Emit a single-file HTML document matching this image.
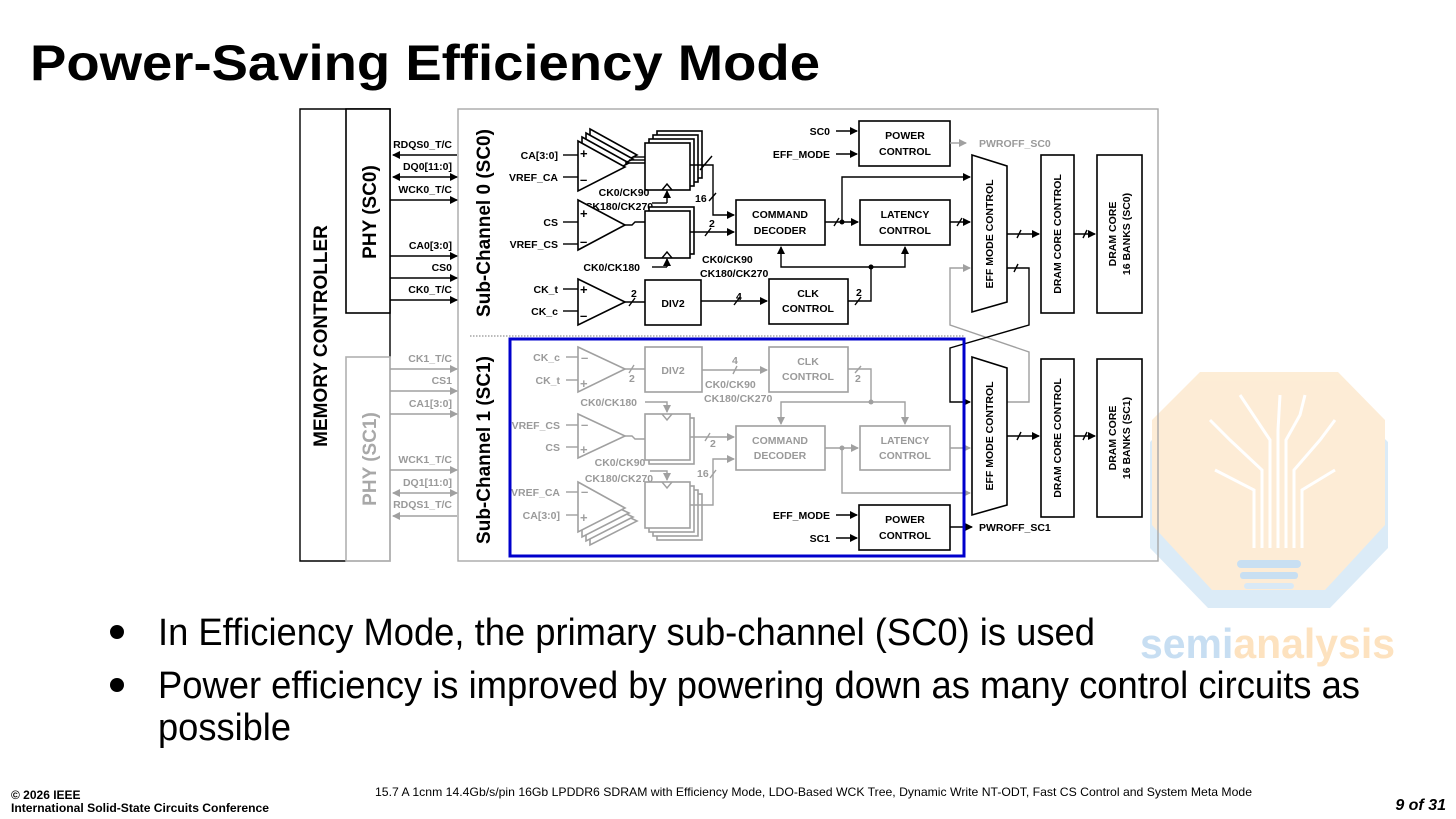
<!DOCTYPE html>
<html><head><meta charset="utf-8"><style>
html,body{margin:0;padding:0;background:#fff}
svg{display:block}
text{font-family:"Liberation Sans",Arial,sans-serif}
.l{font-size:10.5px;font-weight:bold;fill:#000}
.g{fill:#9a9a9a}
.bx{fill:#fff;stroke:#000;stroke-width:1.6}
.gb{fill:#fff;stroke:#a0a0a0;stroke-width:1.6}
.w{fill:none;stroke:#000;stroke-width:1.4}
.gw{fill:none;stroke:#a0a0a0;stroke-width:1.4}
</style></head><body>
<svg width="1456" height="819" viewBox="0 0 1456 819" xmlns="http://www.w3.org/2000/svg">
<defs>
<marker id="a" markerWidth="8" markerHeight="8" refX="7" refY="4" orient="auto" markerUnits="userSpaceOnUse"><path d="M0,0 L8,4 L0,8 z" fill="#000"/></marker>
<marker id="ag" markerWidth="8" markerHeight="8" refX="7" refY="4" orient="auto" markerUnits="userSpaceOnUse"><path d="M0,0 L8,4 L0,8 z" fill="#a0a0a0"/></marker>
<marker id="as" markerWidth="8" markerHeight="8" refX="1" refY="4" orient="auto" markerUnits="userSpaceOnUse"><path d="M8,0 L0,4 L8,8 z" fill="#000"/></marker>
<marker id="asg" markerWidth="8" markerHeight="8" refX="1" refY="4" orient="auto" markerUnits="userSpaceOnUse"><path d="M8,0 L0,4 L8,8 z" fill="#a0a0a0"/></marker>
</defs>

<!-- Logo watermark -->
<g opacity="0.9">
<path d="M1200,392 L1338,392 L1388,442 L1388,548 L1330,608 L1208,608 L1150,548 L1150,442 Z" fill="#d8e9f7"/>
<path d="M1200,372 L1338,372 L1385,420 L1385,525 L1325,590 L1212,590 L1152,525 L1152,420 Z" fill="#fdebd2"/>
<g stroke="#fff" stroke-width="3" fill="none">
<path d="M1262,548 V470 L1230,440 L1210,420"/><path d="M1270,548 V440 L1250,410 L1240,395"/>
<path d="M1278,548 V430 L1280,395"/><path d="M1286,548 V440 L1300,415 L1305,395"/>
<path d="M1294,548 V470 L1320,440 L1335,420"/><path d="M1254,548 V490 L1215,470"/><path d="M1302,548 V490 L1335,470"/>
</g>
<rect x="1237" y="560" width="64" height="8" rx="4" fill="#c3dcf1"/>
<rect x="1240" y="572" width="58" height="7" rx="3" fill="#c3dcf1"/>
<rect x="1244" y="583" width="50" height="6" rx="3" fill="#d5e7f6"/>
</g>
<text x="1140" y="658" font-size="42" font-weight="bold" fill="#c7def2" textLength="255" lengthAdjust="spacingAndGlyphs">semi<tspan fill="#fde2bf">analysis</tspan></text>

<!-- Title -->
<text x="30" y="80" font-size="50" font-weight="bold" textLength="790" lengthAdjust="spacingAndGlyphs">Power-Saving Efficiency Mode</text>

<!-- Main boxes -->
<rect x="458" y="109" width="700" height="452" fill="none" stroke="#a8a8a8" stroke-width="1.4"/>
<path d="M390,357 V109 H300 V561 H346" class="w" stroke-width="1.6"/>
<rect x="346" y="109" width="44" height="204" class="bx"/>
<rect x="346" y="357" width="44" height="204" fill="#fff" stroke="#b0b0b0" stroke-width="1.6"/>
<path d="M346,561 H390 V357" fill="none" stroke="#b0b0b0" stroke-width="1.6"/>
<text transform="translate(327,336) rotate(-90)" text-anchor="middle" font-size="19" font-weight="bold">MEMORY CONTROLLER</text>
<text transform="translate(376,212) rotate(-90)" text-anchor="middle" font-size="19" font-weight="bold">PHY (SC0)</text>
<text transform="translate(376,459) rotate(-90)" text-anchor="middle" font-size="19" font-weight="bold" fill="#a8a8a8">PHY (SC1)</text>
<text transform="translate(490,223) rotate(-90)" text-anchor="middle" font-size="19" font-weight="bold">Sub-Channel 0 (SC0)</text>
<text transform="translate(490,450) rotate(-90)" text-anchor="middle" font-size="19" font-weight="bold">Sub-Channel 1 (SC1)</text>
<line x1="470" y1="336" x2="965" y2="336" stroke="#777" stroke-width="1" stroke-dasharray="1.5,1.5"/>

<!-- PHY SC0 signals -->
<g class="l" text-anchor="end">
<text x="452" y="148">RDQS0_T/C</text><text x="452" y="170">DQ0[11:0]</text><text x="452" y="193">WCK0_T/C</text>
<text x="452" y="249">CA0[3:0]</text><text x="452" y="271">CS0</text><text x="452" y="293">CK0_T/C</text>
</g>
<line x1="457" y1="155" x2="393" y2="155" class="w" marker-end="url(#a)"/>
<line x1="393" y1="177" x2="457" y2="177" class="w" marker-end="url(#a)" marker-start="url(#as)"/>
<line x1="390" y1="200" x2="457" y2="200" class="w" marker-end="url(#a)"/>
<line x1="390" y1="256" x2="457" y2="256" class="w" marker-end="url(#a)"/>
<line x1="390" y1="278" x2="457" y2="278" class="w" marker-end="url(#a)"/>
<line x1="390" y1="300" x2="457" y2="300" class="w" marker-end="url(#a)"/>
<!-- PHY SC1 signals -->
<g class="l g" text-anchor="end">
<text x="452" y="362">CK1_T/C</text><text x="452" y="384">CS1</text><text x="452" y="407">CA1[3:0]</text>
<text x="452" y="463">WCK1_T/C</text><text x="452" y="486">DQ1[11:0]</text><text x="452" y="508">RDQS1_T/C</text>
</g>
<line x1="390" y1="369" x2="457" y2="369" class="gw" marker-end="url(#ag)"/>
<line x1="390" y1="391" x2="457" y2="391" class="gw" marker-end="url(#ag)"/>
<line x1="390" y1="414" x2="457" y2="414" class="gw" marker-end="url(#ag)"/>
<line x1="390" y1="470" x2="457" y2="470" class="gw" marker-end="url(#ag)"/>
<line x1="393" y1="493" x2="457" y2="493" class="gw" marker-end="url(#ag)" marker-start="url(#asg)"/>
<line x1="457" y1="516" x2="393" y2="516" class="gw" marker-end="url(#ag)"/>

<!-- ===== SC0 circuitry ===== -->
<g class="l" text-anchor="end">
<text x="558" y="159">CA[3:0]</text><text x="558" y="181">VREF_CA</text>
<text x="558" y="226">CS</text><text x="558" y="248">VREF_CS</text>
<text x="558" y="293">CK_t</text><text x="558" y="315">CK_c</text>
</g>
<g class="w"><line x1="563" y1="155" x2="578" y2="155"/><line x1="563" y1="177" x2="578" y2="177"/>
<line x1="563" y1="222" x2="578" y2="222"/><line x1="563" y1="244" x2="578" y2="244"/>
<line x1="563" y1="289" x2="578" y2="289"/><line x1="563" y1="311" x2="578" y2="311"/></g>
<path d="M590,129 L637,155 L590,179 Z" class="bx"/>
<path d="M586,133 L633,159 L586,183 Z" class="bx"/>
<path d="M582,137 L629,163 L582,187 Z" class="bx"/>
<path d="M578,141 L625,167 L578,191 Z" class="bx"/>
<text x="580" y="158" font-size="13" font-weight="bold">+</text><text x="580" y="184" font-size="13" font-weight="bold">–</text>
<g class="w"><line x1="625" y1="163" x2="645" y2="163"/><line x1="629" y1="160" x2="645" y2="160"/><line x1="633" y1="157" x2="645" y2="157"/></g>
<rect x="657" y="131" width="45" height="47" class="bx"/>
<rect x="653" y="135" width="45" height="47" class="bx"/>
<rect x="649" y="139" width="45" height="47" class="bx"/>
<rect x="645" y="143" width="45" height="47" class="bx"/>
<path d="M662,190 L667,184 L672,190" class="w"/>
<line x1="667" y1="203" x2="667" y2="191" class="w" marker-end="url(#a)"/><line x1="652" y1="203" x2="667" y2="203" class="w"/>
<path d="M690,165 H713 V215 H734" class="w" marker-end="url(#a)"/>
<path d="M700,170 L712,156" class="w"/>
<text x="695" y="202" class="l">16</text><line x1="709" y1="201" x2="716" y2="193" class="w"/>
<text x="624" y="196" class="l" text-anchor="middle">CK0/CK90</text>
<text x="619" y="210" class="l" text-anchor="middle">CK180/CK270</text>
<path d="M578,200 L625,225 L578,250 Z" class="bx"/>
<text x="580" y="218" font-size="13" font-weight="bold">+</text><text x="580" y="246" font-size="13" font-weight="bold">–</text>
<path d="M625,225 H632 L635,222 H645" class="w"/>
<rect x="649" y="207" width="45" height="47" class="bx"/>
<rect x="645" y="211" width="45" height="47" class="bx"/>
<path d="M662,258 L667,252 L672,258" class="w"/>
<line x1="667" y1="267" x2="667" y2="259" class="w" marker-end="url(#a)"/><line x1="652" y1="267" x2="667" y2="267" class="w"/>
<text x="640" y="271" class="l" text-anchor="end">CK0/CK180</text>
<line x1="690" y1="232" x2="734" y2="232" class="w" marker-end="url(#a)"/>
<text x="709" y="227" class="l">2</text><line x1="705" y1="236" x2="711" y2="228" class="w"/>
<path d="M578,279 L625,302 L578,325 Z" class="bx"/>
<text x="580" y="294" font-size="13" font-weight="bold">+</text><text x="580" y="320" font-size="13" font-weight="bold">–</text>
<line x1="625" y1="302" x2="645" y2="302" class="w"/>
<text x="631" y="297" class="l">2</text><line x1="629" y1="306" x2="635" y2="298" class="w"/>
<rect x="645" y="280" width="56" height="45" class="bx"/>
<text x="673" y="307" class="l" text-anchor="middle">DIV2</text>
<line x1="701" y1="301" x2="767" y2="301" class="w" marker-end="url(#a)"/>
<text x="736" y="300" class="l">4</text><line x1="734" y1="305" x2="740" y2="297" class="w"/>
<text x="702" y="263" class="l">CK0/CK90</text><text x="700" y="277" class="l">CK180/CK270</text>
<rect x="769" y="279" width="79" height="45" class="bx"/>
<text x="808" y="297" class="l" text-anchor="middle">CLK</text><text x="808" y="312" class="l" text-anchor="middle">CONTROL</text>
<path d="M848,301 H871 V267 H781 V247" class="w" marker-end="url(#a)"/>
<path d="M871,267 H905 V247" class="w" marker-end="url(#a)"/>
<circle cx="871" cy="267" r="2.5"/>
<text x="856" y="296" class="l">2</text><line x1="855" y1="305" x2="861" y2="297" class="w"/>
<rect x="736" y="200" width="89" height="45" class="bx"/>
<text x="780" y="218" class="l" text-anchor="middle">COMMAND</text><text x="780" y="234" class="l" text-anchor="middle">DECODER</text>
<rect x="860" y="200" width="90" height="45" class="bx"/>
<text x="905" y="218" class="l" text-anchor="middle">LATENCY</text><text x="905" y="234" class="l" text-anchor="middle">CONTROL</text>
<line x1="825" y1="222" x2="858" y2="222" class="w" marker-end="url(#a)"/>
<circle cx="842" cy="222" r="2.5"/><line x1="834" y1="226" x2="839" y2="218" class="w"/>
<path d="M842,222 V177 H970" class="w" marker-end="url(#a)"/>
<line x1="950" y1="222" x2="970" y2="222" class="w" marker-end="url(#a)"/><line x1="957" y1="226" x2="962" y2="218" class="w"/>
<rect x="859" y="121" width="91" height="45" class="bx"/>
<text x="905" y="139" class="l" text-anchor="middle">POWER</text><text x="905" y="155" class="l" text-anchor="middle">CONTROL</text>
<text x="830" y="135" class="l" text-anchor="end">SC0</text><text x="830" y="158" class="l" text-anchor="end">EFF_MODE</text>
<line x1="836" y1="131" x2="857" y2="131" class="w" marker-end="url(#a)"/>
<line x1="836" y1="154" x2="857" y2="154" class="w" marker-end="url(#a)"/>
<line x1="950" y1="143" x2="966" y2="143" class="gw" marker-end="url(#ag)"/>
<text x="979" y="147" class="l g">PWROFF_SC0</text>

<path d="M1007,402 H1029 V352 L950,325 V268 H970" class="gw" marker-end="url(#ag)"/>
<path d="M1007,268 H1029 V325 L950,348 V402 H970" class="w" marker-end="url(#a)"/>
<line x1="1014" y1="272" x2="1018" y2="264" class="w"/>

<path d="M972,155 L1007,166 L1007,302 L972,312 Z" class="bx"/>
<text transform="translate(993,234) rotate(-90)" class="l" text-anchor="middle">EFF MODE CONTROL</text>
<rect x="1041" y="155" width="33" height="158" class="bx"/>
<text transform="translate(1061,234) rotate(-90)" class="l" text-anchor="middle">DRAM CORE CONTROL</text>
<rect x="1097" y="155" width="45" height="158" class="bx"/>
<text transform="translate(1116,234) rotate(-90)" class="l" text-anchor="middle">DRAM CORE</text>
<text transform="translate(1130,234) rotate(-90)" class="l" text-anchor="middle">16 BANKS (SC0)</text>
<line x1="1007" y1="234" x2="1039" y2="234" class="w" marker-end="url(#a)"/><line x1="1017" y1="238" x2="1021" y2="230" class="w"/>
<line x1="1074" y1="234" x2="1095" y2="234" class="w" marker-end="url(#a)"/><line x1="1083" y1="238" x2="1087" y2="230" class="w"/>
<path d="M972,357 L1007,368 L1007,505 L972,515 Z" class="bx"/>
<text transform="translate(993,436) rotate(-90)" class="l" text-anchor="middle">EFF MODE CONTROL</text>
<rect x="1041" y="359" width="33" height="158" class="bx"/>
<text transform="translate(1061,438) rotate(-90)" class="l" text-anchor="middle">DRAM CORE CONTROL</text>
<rect x="1097" y="359" width="45" height="158" class="bx"/>
<text transform="translate(1116,438) rotate(-90)" class="l" text-anchor="middle">DRAM CORE</text>
<text transform="translate(1130,438) rotate(-90)" class="l" text-anchor="middle">16 BANKS (SC1)</text>
<line x1="1007" y1="436" x2="1039" y2="436" class="w" marker-end="url(#a)"/><line x1="1017" y1="440" x2="1021" y2="432" class="w"/>
<line x1="1074" y1="436" x2="1095" y2="436" class="w" marker-end="url(#a)"/><line x1="1083" y1="440" x2="1087" y2="432" class="w"/>

<!-- ===== SC1 circuitry (grey) ===== -->
<g class="l g" text-anchor="end">
<text x="560" y="361">CK_c</text><text x="560" y="384">CK_t</text>
<text x="560" y="429">VREF_CS</text><text x="560" y="451">CS</text>
<text x="560" y="496">VREF_CA</text><text x="560" y="519">CA[3:0]</text>
</g>
<g class="gw"><line x1="566" y1="357" x2="578" y2="357"/><line x1="566" y1="380" x2="578" y2="380"/>
<line x1="566" y1="425" x2="578" y2="425"/><line x1="566" y1="447" x2="578" y2="447"/>
<line x1="566" y1="492" x2="578" y2="492"/><line x1="566" y1="515" x2="578" y2="515"/></g>
<path d="M578,347 L625,369 L578,392 Z" class="gb"/>
<text x="581" y="362" font-size="13" font-weight="bold" fill="#a0a0a0">–</text><text x="580" y="388" font-size="13" font-weight="bold" fill="#a0a0a0">+</text>
<line x1="625" y1="369" x2="645" y2="369" class="gw"/>
<text x="629" y="382" class="l g">2</text><line x1="629" y1="373" x2="634" y2="365" class="gw"/>
<rect x="645" y="347" width="57" height="45" class="gb"/>
<text x="673" y="374" class="l g" text-anchor="middle">DIV2</text>
<line x1="702" y1="370" x2="767" y2="370" class="gw" marker-end="url(#ag)"/>
<text x="732" y="364" class="l g">4</text><line x1="733" y1="374" x2="737" y2="366" class="gw"/>
<text x="705" y="388" class="l g">CK0/CK90</text><text x="704" y="402" class="l g">CK180/CK270</text>
<rect x="769" y="347" width="79" height="45" class="gb"/>
<text x="808" y="365" class="l g" text-anchor="middle">CLK</text><text x="808" y="380" class="l g" text-anchor="middle">CONTROL</text>
<path d="M848,369 H871 V402 H781 V424" class="gw" marker-end="url(#ag)"/>
<path d="M871,402 H905 V424" class="gw" marker-end="url(#ag)"/>
<circle cx="871" cy="402" r="2.5" fill="#a0a0a0"/>
<text x="855" y="382" class="l g">2</text><line x1="855" y1="373" x2="861" y2="366" class="gw"/>
<text x="637" y="406" class="l g" text-anchor="end">CK0/CK180</text>
<path d="M645,402 H667 V412" class="gw" marker-end="url(#ag)"/>
<path d="M578,414 L625,436 L578,458 Z" class="gb"/>
<text x="581" y="429" font-size="13" font-weight="bold" fill="#a0a0a0">–</text><text x="580" y="454" font-size="13" font-weight="bold" fill="#a0a0a0">+</text>
<path d="M625,436 H632 L635,439 H645" class="gw"/>
<rect x="649" y="418" width="45" height="46" class="gb"/>
<rect x="645" y="414" width="45" height="46" class="gb"/>
<path d="M662,414 L667,420 L672,414" class="gw"/>
<line x1="690" y1="437" x2="734" y2="437" class="gw" marker-end="url(#ag)"/>
<text x="710" y="447" class="l g">2</text><line x1="705" y1="441" x2="710" y2="433" class="gw"/>
<text x="620" y="466" class="l g" text-anchor="middle">CK0/CK90</text>
<text x="619" y="482" class="l g" text-anchor="middle">CK180/CK270</text>
<path d="M650,471 H667 V480" class="gw" marker-end="url(#ag)"/>
<rect x="657" y="494" width="45" height="46" class="gb"/>
<rect x="653" y="490" width="45" height="46" class="gb"/>
<rect x="649" y="486" width="45" height="46" class="gb"/>
<rect x="645" y="482" width="45" height="46" class="gb"/>
<path d="M662,482 L667,488 L672,482" class="gw"/>
<path d="M590,499 L637,521 L590,545 Z" class="gb"/>
<path d="M586,495 L633,517 L586,541 Z" class="gb"/>
<path d="M582,491 L629,513 L582,537 Z" class="gb"/>
<path d="M578,482 L625,508 L578,532 Z" class="gb"/>
<text x="581" y="496" font-size="13" font-weight="bold" fill="#a0a0a0">–</text><text x="580" y="522" font-size="13" font-weight="bold" fill="#a0a0a0">+</text>
<path d="M690,505 H713 V459 H734" class="gw" marker-end="url(#ag)"/>
<text x="697" y="477" class="l g">16</text><line x1="710" y1="478" x2="716" y2="470" class="gw"/>
<rect x="736" y="426" width="89" height="44" class="gb"/>
<text x="780" y="444" class="l g" text-anchor="middle">COMMAND</text><text x="780" y="459" class="l g" text-anchor="middle">DECODER</text>
<rect x="860" y="426" width="90" height="44" class="gb"/>
<text x="905" y="444" class="l g" text-anchor="middle">LATENCY</text><text x="905" y="459" class="l g" text-anchor="middle">CONTROL</text>
<line x1="825" y1="448" x2="858" y2="448" class="gw" marker-end="url(#ag)"/>
<circle cx="842" cy="448" r="2.5" fill="#a0a0a0"/>
<path d="M842,448 V493 H970" class="gw" marker-end="url(#ag)"/>
<line x1="950" y1="448" x2="970" y2="448" class="gw" marker-end="url(#ag)"/>
<rect x="859" y="505" width="91" height="45" class="bx"/>
<text x="905" y="523" class="l" text-anchor="middle">POWER</text><text x="905" y="539" class="l" text-anchor="middle">CONTROL</text>
<text x="830" y="519" class="l" text-anchor="end">EFF_MODE</text><text x="830" y="542" class="l" text-anchor="end">SC1</text>
<line x1="836" y1="515" x2="857" y2="515" class="w" marker-end="url(#a)"/>
<line x1="836" y1="538" x2="857" y2="538" class="w" marker-end="url(#a)"/>
<line x1="950" y1="527" x2="972" y2="527" class="w" marker-end="url(#a)"/>
<text x="979" y="531" class="l">PWROFF_SC1</text>

<rect x="510" y="339" width="454" height="217" fill="none" stroke="#0000cc" stroke-width="3"/>

<!-- bullets -->
<circle cx="117" cy="632" r="7"/>
<text x="158" y="645" font-size="38" textLength="937" lengthAdjust="spacingAndGlyphs">In Efficiency Mode, the primary sub-channel (SC0) is used</text>
<circle cx="117" cy="685" r="7"/>
<text x="158" y="698" font-size="38" textLength="1202" lengthAdjust="spacingAndGlyphs">Power efficiency is improved by powering down as many control circuits as</text>
<text x="158" y="740" font-size="38" textLength="133" lengthAdjust="spacingAndGlyphs">possible</text>

<!-- footer -->
<text x="11" y="799" font-size="12" font-weight="bold">© 2026 IEEE</text>
<text x="11" y="812" font-size="12" font-weight="bold" textLength="258" lengthAdjust="spacingAndGlyphs">International Solid-State Circuits Conference</text>
<text x="375" y="796" font-size="12" textLength="877" lengthAdjust="spacingAndGlyphs">15.7 A 1cnm 14.4Gb/s/pin 16Gb LPDDR6 SDRAM with Efficiency Mode, LDO-Based WCK Tree, Dynamic Write NT-ODT, Fast CS Control and System Meta Mode</text>
<text x="1446" y="810" font-size="16" font-weight="bold" font-style="italic" text-anchor="end">9 of 31</text>
</svg>
</body></html>
